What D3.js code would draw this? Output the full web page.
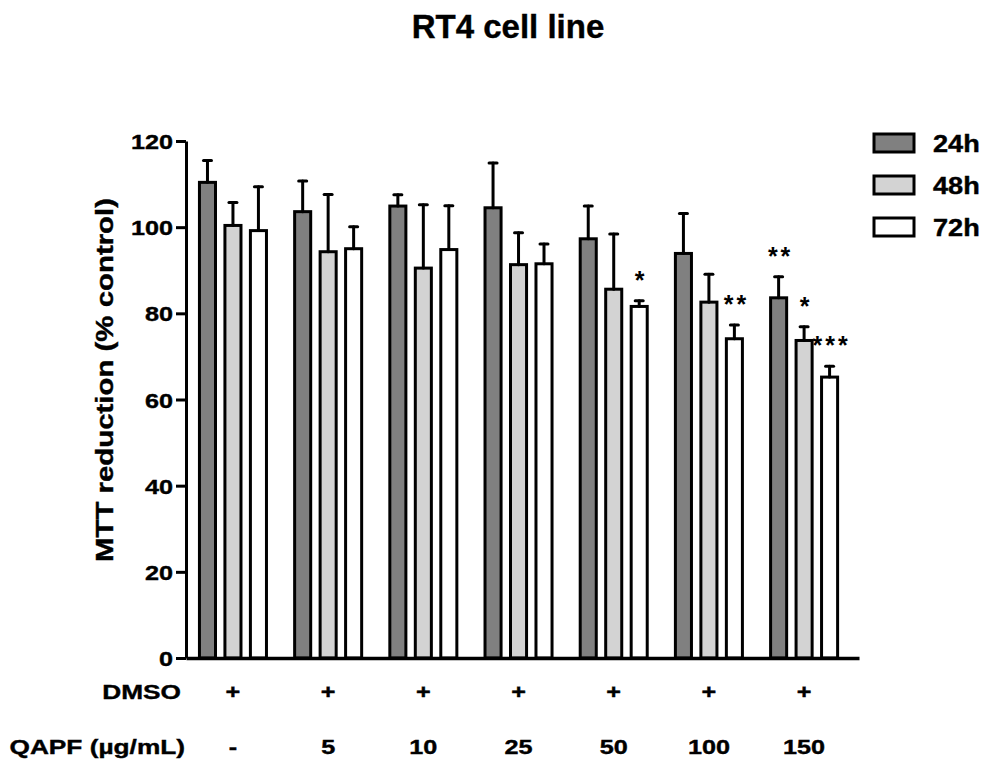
<!DOCTYPE html>
<html lang="en">
<head>
    <meta charset="UTF-8">
    <title>RT4 cell line</title>
    <script src="https://d3js.org/d3.v7.min.js"></script>
    <style>
        body { margin: 0; background: #fff; }
        svg { display: block; font-family: "Liberation Sans", Arial, sans-serif; font-weight: bold; }
        svg text { stroke: #000; stroke-width: 0.4px; }
    </style>
    <script>
        // groups (QAPF doses) and the two rows of labels under the axis
        const groups = ["ctrl", "5", "10", "25", "50", "100", "150"];
        const dmsoLabels = ["+", "+", "+", "+", "+", "+", "+"];
        const qapfLabels = ["-", "5", "10", "25", "50", "100", "150"];

        const series = ["24h", "48h", "72h"];
        const colors = ["#808080", "#d3d3d3", "#ffffff"];

        // mean MTT reduction (% control)
        const mean24 = [110.4, 103.6, 104.9, 104.5, 97.3, 93.9, 83.6];
        const mean48 = [100.4, 94.3, 90.5, 91.3, 85.6, 82.6, 73.7];
        const mean72 = [99.2, 95.0, 94.8, 91.5, 81.6, 74.1, 65.2];

        // upper error (SD)
        const err24 = [5.1, 7.1, 2.6, 10.4, 7.6, 9.3, 4.9];
        const err48 = [5.3, 13.3, 14.7, 7.4, 12.8, 6.5, 3.2];
        const err72 = [10.2, 5.1, 10.2, 4.6, 1.3, 3.2, 2.5];

        const yTicks = [0, 20, 40, 60, 80, 100, 120];

        const sigMarks = [
            {group: "50", series: "72h", mark: "*"},
            {group: "100", series: "72h", mark: "**"},
            {group: "150", series: "24h", mark: "**"},
            {group: "150", series: "48h", mark: "*"},
            {group: "150", series: "72h", mark: "***"}
        ];

        // the original lettering is wider than Arial, so scale text horizontally
        function widen(sel, k) {
            sel.each(function() {
                const t = d3.select(this);
                const x = +t.attr("x") || 0;
                const y = +t.attr("y") || 0;
                const tr = t.attr("transform") || "";
                if (tr) {
                    t.attr("transform", tr + " scale(" + k + ",1)");
                } else {
                    t.attr("x", 0).attr("y", 0)
                        .attr("transform", "translate(" + x + "," + y + ") scale(" + k + ",1)");
                }
            });
        }

        function drawChart() {
            const svg = d3.select("svg").attr("width", 986).attr("height", 766);

            const means = [mean24, mean48, mean72];
            const errs = [err24, err48, err72];
            const rows = [];
            groups.forEach(function(g, i) {
                series.forEach(function(s, j) {
                    rows.push({group: g, series: s, value: means[j][i], err: errs[j][i], color: colors[j]});
                });
            });

            const y = d3.scaleLinear().domain([0, 120]).range([658, 141]);
            const x0 = d3.scaleBand().domain(groups).range([186, 859])
                .paddingInner(0.296).paddingOuter(0.183).align(0.386);
            const x1 = d3.scaleBand().domain(series).range([0, x0.bandwidth()]).paddingInner(0.37);

            // title
            svg.append("text")
                .attr("x", 508).attr("y", 38)
                .attr("text-anchor", "middle")
                .attr("font-size", 33)
                .text("RT4 cell line");

            // bars
            const bars = svg.append("g");
            bars.selectAll("rect")
                .data(rows)
                .enter().append("rect")
                .attr("x", function(d) { return x0(d.group) + x1(d.series); })
                .attr("y", function(d) { return y(d.value); })
                .attr("width", x1.bandwidth())
                .attr("height", function(d) { return y(0) - y(d.value); })
                .attr("fill", function(d) { return d.color; })
                .attr("stroke", "#000")
                .attr("stroke-width", 3);

            // error bars (upper only)
            const eb = svg.append("g").attr("stroke", "#000").attr("stroke-width", 3).attr("stroke-linecap", "round");
            rows.forEach(function(d) {
                const cx = x0(d.group) + x1(d.series) + x1.bandwidth() / 2;
                eb.append("line").attr("x1", cx).attr("x2", cx)
                    .attr("y1", y(d.value)).attr("y2", y(d.value + d.err));
                eb.append("line").attr("x1", cx - 4).attr("x2", cx + 4)
                    .attr("y1", y(d.value + d.err)).attr("y2", y(d.value + d.err));
            });

            // significance stars
            svg.append("g").selectAll("text")
                .data(sigMarks)
                .enter().append("text")
                .attr("x", function(d) { return x0(d.group) + x1(d.series) + x1.bandwidth() / 2 + 2; })
                .attr("y", function(d) {
                    const r = rows.find(function(e) { return e.group === d.group && e.series === d.series; });
                    return y(r.value + r.err) - 12;
                })
                .attr("text-anchor", "middle")
                .attr("font-size", 25)
                .style("stroke-width", "0px")
                .attr("letter-spacing", 3)
                .text(function(d) { return d.mark; });

            // y axis
            const yAxis = svg.append("g")
                .attr("transform", "translate(186,0)")
                .call(d3.axisLeft(y).tickValues(yTicks).tickSize(10).tickSizeOuter(0).tickPadding(3));
            yAxis.select(".domain").attr("stroke-width", 3);
            yAxis.selectAll(".tick line").attr("stroke-width", 3);
            yAxis.selectAll(".tick text")
                .attr("font-size", 21).attr("font-family", "Liberation Sans, Arial, sans-serif")
                .attr("font-weight", "bold").attr("fill", "#000").attr("dy", "0.36em")
                .attr("x", -13 / 1.2).attr("transform", "scale(1.2,1)");

            // x baseline
            const xAxis = svg.append("g")
                .attr("transform", "translate(0,658)")
                .call(d3.axisBottom(x0).tickSize(0).tickSizeOuter(0).tickFormat(""));
            xAxis.select(".domain").attr("stroke-width", 3.5);

            // DMSO row
            const dmso = svg.append("g")
                .attr("transform", "translate(0,699)")
                .call(d3.axisBottom(x0).tickSize(0).tickPadding(0)
                    .tickFormat(function(d, i) { return dmsoLabels[i]; }));
            dmso.select(".domain").remove();

            // QAPF row
            const qapf = svg.append("g")
                .attr("transform", "translate(0,754)")
                .call(d3.axisBottom(x0).tickSize(0).tickPadding(0)
                    .tickFormat(function(d, i) { return qapfLabels[i]; }));
            qapf.select(".domain").remove();

            [dmso, qapf].forEach(function(row) {
                row.selectAll(".tick text")
                    .attr("dy", 0).attr("y", 0)
                    .attr("font-size", 21).attr("font-family", "Liberation Sans, Arial, sans-serif")
                    .attr("font-weight", "bold").attr("fill", "#000")
                    .attr("transform", "scale(1.2,1)");
            });

            const rowLabels = svg.append("g").attr("font-size", 21).attr("text-anchor", "end");
            rowLabels.append("text").attr("x", 181).attr("y", 699).text("DMSO");
            rowLabels.append("text").attr("x", 185).attr("y", 754).text("QAPF (µg/mL)");
            widen(rowLabels.selectAll("text"), 1.25);

            // y label
            const yl = svg.append("text")
                .attr("transform", "translate(113,562) rotate(-90)")
                .attr("text-anchor", "start")
                .attr("font-size", 24.5)
                .text("MTT reduction (% control)");
            widen(yl, 1.2);

            // legend
            const legend = svg.append("g");
            series.forEach(function(s, j) {
                const ly = 143 + j * 42;
                legend.append("rect")
                    .attr("x", 874).attr("y", ly - 9)
                    .attr("width", 40).attr("height", 18)
                    .attr("fill", colors[j]).attr("stroke", "#000").attr("stroke-width", 3);
                legend.append("text")
                    .attr("x", 933).attr("y", ly + 9)
                    .attr("font-size", 23)
                    .text(s);
            });
            widen(legend.selectAll("text"), 1.18);
        }

        document.addEventListener("DOMContentLoaded", drawChart);
    </script>
</head>
<body>
    <svg></svg>
</body>
</html>
